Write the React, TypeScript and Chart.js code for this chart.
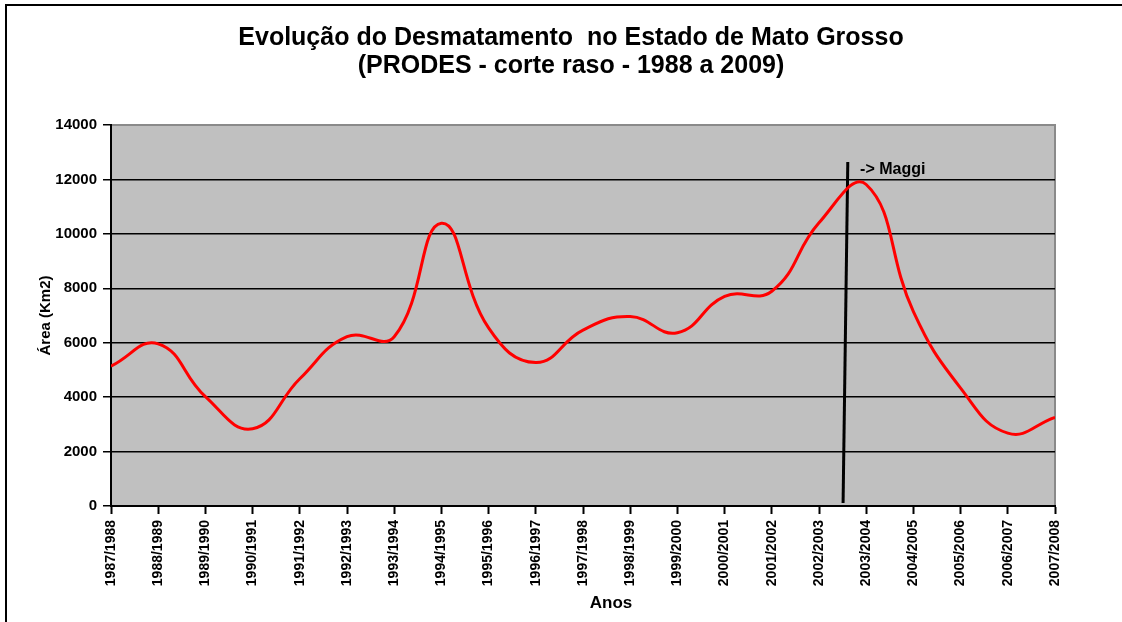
import React, { useEffect, useRef } from "react";
import { Chart, registerables } from "chart.js";

Chart.register(...registerables);

const categories = [
  "1987/1988", "1988/1989", "1989/1990", "1990/1991", "1991/1992", "1992/1993",
  "1993/1994", "1994/1995", "1995/1996", "1996/1997", "1997/1998", "1998/1999",
  "1999/2000", "2000/2001", "2001/2002", "2002/2003", "2003/2004", "2004/2005",
  "2005/2006", "2006/2007", "2007/2008",
];
const areaKm2 = [
  5140, 5960, 4020, 2840, 4674, 6220, 6220, 10391, 6543, 5271, 6466, 6963,
  6369, 7703, 7892, 10405, 11814, 7145, 4333, 2678, 3258,
];
const yTickValues = [0, 2000, 4000, 6000, 8000, 10000, 12000, 14000];
// marker line (category index positions, values)
const markerX = [15.61, 15.51];
const markerY = [12640, 110];
const annotationText = "-> Maggi";
const annotationX = 15.87;
const annotationY = 12350;

const titleLines = [
  "Evolução do Desmatamento  no Estado de Mato Grosso",
  "(PRODES - corte raso - 1988 a 2009)",
];
const yTitle = "Área (Km2)";
const xTitle = "Anos";

const FONT = "'Liberation Sans', Arial, sans-serif";

export default function App() {
  const ref = useRef<HTMLCanvasElement | null>(null);

  useEffect(() => {
    if (!ref.current) return;

    const bgPlugin = {
      id: "bg",
      beforeDraw(chart: any) {
        const { ctx, chartArea: a } = chart;
        ctx.save();
        ctx.fillStyle = "#C0C0C0";
        ctx.fillRect(a.left, a.top, a.right - a.left, a.bottom - a.top);
        ctx.strokeStyle = "#8a8a8a";
        ctx.lineWidth = 2;
        ctx.beginPath();
        ctx.moveTo(a.left, a.top);
        ctx.lineTo(a.right, a.top);
        ctx.lineTo(a.right, a.bottom);
        ctx.stroke();
        ctx.restore();
      },
      afterDraw(chart: any) {
        const { ctx, chartArea: a } = chart;
        ctx.save();
        ctx.fillStyle = "#000";
        ctx.textAlign = "center";
        ctx.textBaseline = "middle";
        ctx.font = `bold 25px ${FONT}`;
        ctx.fillText(titleLines[0], 571, 38);
        ctx.fillText(titleLines[1], 571, 66);
        const xs = chart.scales.x;
        const ys = chart.scales.y;
        ctx.font = `bold 17px ${FONT}`;
        ctx.fillText(xTitle, 611, 603);
        ctx.save();
        ctx.translate(46, (a.top + a.bottom) / 2);
        ctx.rotate(-Math.PI / 2);
        ctx.font = `bold 15px ${FONT}`;
        ctx.fillText(yTitle, 0, 0);
        ctx.restore();
        ctx.font = `bold 16px ${FONT}`;
        ctx.textAlign = "left";
        ctx.fillText(annotationText, xs.getPixelForValue(annotationX), ys.getPixelForValue(annotationY));
        ctx.restore();
      },
    };

    const chart = new Chart(ref.current, {
      type: "line",
      data: {
        datasets: [
          {
            data: areaKm2.map((v, i) => ({ x: i, y: v })),
            borderColor: "#FF0000",
            borderWidth: 3,
            pointRadius: 0,
            tension: 0.45,
            fill: false,
          },
          {
            data: markerX.map((x, i) => ({ x, y: markerY[i] })),
            borderColor: "#000",
            borderWidth: 3,
            pointRadius: 0,
            tension: 0,
            fill: false,
          },
        ],
      },
      plugins: [bgPlugin],
      options: {
        responsive: false,
        animation: false,
        layout: { padding: { left: 30, right: 67, top: 125, bottom: 0 } },
        plugins: { legend: { display: false }, tooltip: { enabled: false }, title: { display: false } },
        scales: {
          x: {
            type: "linear",
            min: 0,
            max: categories.length - 1,
            afterBuildTicks: (s: any) => {
              s.ticks = categories.map((_, i) => ({ value: i }));
            },
            afterFit: (s: any) => {
              s.height = 116;
            },
            ticks: {
              autoSkip: false,
              minRotation: 90,
              maxRotation: 90,
              padding: 6,
              color: "#000",
              font: { family: FONT, size: 14, weight: "bold" },
              callback: (v: any) => categories[v] ?? "",
            },
            grid: { drawOnChartArea: false, tickLength: 8, color: "#000", tickWidth: 2 },
            border: { color: "#000", width: 2 },
          },
          y: {
            min: 0,
            max: 14000,
            afterBuildTicks: (s: any) => {
              s.ticks = yTickValues.map((v) => ({ value: v }));
            },
            afterFit: (s: any) => {
              s.width = 81;
            },
            ticks: {
              padding: 6,
              color: "#000",
              font: { family: FONT, size: 15, weight: "bold" },
              callback: (v: any) => String(v),
            },
            grid: {
              color: (c: any) => (c.tick && c.tick.value === 14000 ? "rgba(0,0,0,0)" : "#000"),
              tickColor: "#000",
              tickLength: 8,
              lineWidth: 1.5,
            },
            border: { color: "#000", width: 2 },
          },
        },
      },
    });
    return () => chart.destroy();
  }, []);

  return (
    <div style={{ position: "fixed", left: 0, top: 0, width: 1122, height: 622, background: "#fff" }}>
      <div
        style={{
          position: "absolute",
          left: 5,
          top: 4,
          width: 1117,
          height: 618,
          borderLeft: "2px solid #000",
          borderTop: "2px solid #000",
          boxSizing: "border-box",
        }}
      />
      <canvas ref={ref} width={1122} height={622} style={{ position: "absolute", left: 0, top: 0 }} />
    </div>
  );
}
